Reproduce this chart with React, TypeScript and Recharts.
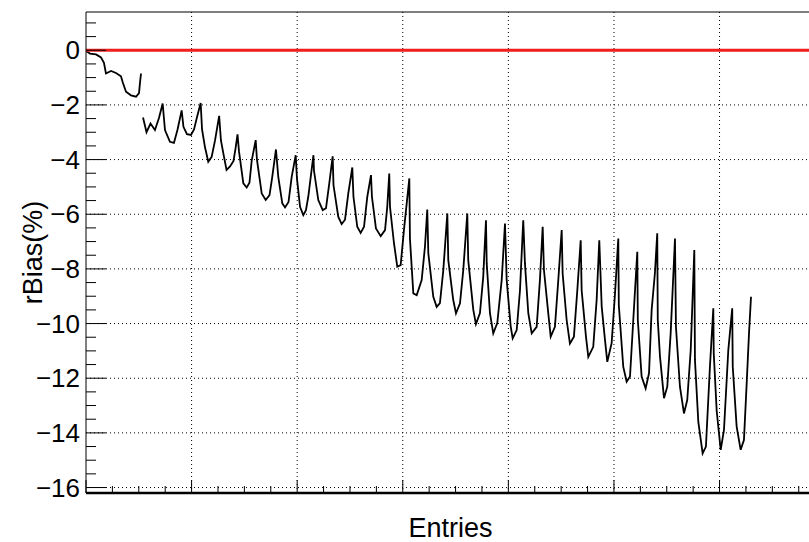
import { LineChart, Line, XAxis, YAxis, ReferenceLine } from 'recharts';

// entries along the run, one row per oscillation cycle
const ENTRIES = [
  0, 38, 95, 142, 170, 189, 237, 284, 331, 350, 379, 426, 474, 502, 511, 521,
  530,
  540, 573, 611, 653, 691, 726,
  748, 795, 833, 867, 906,
  923, 956, 994, 1023, 1051, 1086,
  1099, 1127, 1158, 1190, 1222, 1261,
  1278, 1302, 1331, 1364, 1397, 1416, 1435,
  1449, 1490, 1522, 1548, 1569, 1607,
  1619, 1664, 1702, 1738, 1764, 1799,
  1821, 1859, 1885, 1918, 1948, 1986,
  1998, 2027, 2058, 2083, 2105, 2154,
  2159, 2200, 2242, 2273, 2304, 2336,
  2344, 2389, 2421, 2453, 2484, 2522,
  2533, 2569, 2601, 2633, 2664, 2699,
  2708, 2746, 2791, 2832, 2853, 2872,
  2879, 2917, 2948, 2980, 3011, 3062,
  3068, 3100, 3132, 3179, 3210, 3232,
  3242, 3289, 3321, 3352, 3384, 3422,
  3431, 3478, 3504, 3542, 3573, 3611,
  3620, 3668, 3693, 3731, 3762, 3788,
  3795, 3826, 3857, 3895, 3937, 3968,
  3984, 4022, 4041, 4079, 4110, 4141,
  4157, 4189, 4221, 4268, 4299, 4325,
  4337, 4378, 4401, 4441, 4473, 4505,
  4514, 4552, 4583, 4621, 4653, 4685,
  4694, 4735, 4757, 4804, 4836, 4861,
  4884, 4915, 4937, 4978, 5010, 5041,
  5046, 5088, 5120, 5152, 5183, 5221,
  5226, 5262, 5300, 5332, 5357, 5388, 5410,
  5415, 5436, 5474, 5505, 5537, 5578,
  5587, 5625, 5663, 5694, 5727, 5761,
  5767, 5799, 5840, 5871, 5909, 5941,
  5945, 5973, 6011, 6042, 6083, 6120,
  6125, 6162, 6200, 6231, 6257, 6279, 6298,
];

const RBIAS: (number | null)[] = [
  -0.02, -0.12, -0.15, -0.26, -0.46, -0.85, -0.76, -0.83, -0.95, -1.2, -1.52, -1.65, -1.7, -1.57, -1.2, -0.85,
  null,
  -2.46, -3.0, -2.68, -2.92, -2.48, -1.95,
  -2.92, -3.35, -3.39, -2.9, -2.2,
  -2.8, -3.07, -3.1, -2.9, -2.45, -1.93,
  -2.9, -3.55, -4.08, -3.9, -3.3, -2.4,
  -3.3, -3.8, -4.38, -4.25, -4.05, -3.6, -3.08,
  -3.7, -4.87, -5.02, -4.85, -4.05, -3.29,
  -4.0, -5.24, -5.48, -5.3, -4.63, -3.63,
  -4.63, -5.6, -5.75, -5.55, -4.63, -3.84,
  -4.7, -5.73, -6.03, -5.85, -5.36, -3.84,
  -4.4, -5.48, -5.85, -5.78, -4.87, -3.88,
  -4.94, -6.09, -6.36, -6.2, -5.24, -4.29,
  -5.36, -6.46, -6.68, -6.46, -5.36, -4.57,
  -5.36, -6.52, -6.8, -6.58, -5.73, -4.51,
  -5.73, -7.07, -7.92, -7.86, -6.58, -4.69,
  -6.9, -8.9, -8.96, -8.41, -7.19, -5.83,
  -7.43, -9.02, -9.39, -9.25, -8.04, -5.97,
  -7.68, -9.14, -9.63, -9.26, -8.04, -5.97,
  -7.68, -9.5, -10.02, -9.62, -8.29, -6.22,
  -7.8, -9.63, -10.36, -9.98, -8.4, -6.34,
  -8.4, -10.1, -10.54, -10.24, -8.78, -6.22,
  -7.8, -9.63, -10.36, -10.12, -8.4, -6.46,
  -8.04, -9.63, -10.48, -10.12, -8.4, -6.58,
  -8.17, -9.87, -10.73, -10.48, -8.78, -6.95,
  -8.78, -10.48, -11.22, -10.85, -9.14, -6.95,
  -9.38, -10.6, -11.4, -10.72, -8.9, -6.89,
  -9.32, -11.58, -12.13, -11.94, -9.87, -7.37,
  -9.87, -11.94, -12.37, -11.82, -9.5, -8.15, -6.7,
  -9.87, -11.21, -12.73, -12.31, -10.36, -6.89,
  -10.12, -12.31, -13.29, -12.8, -10.97, -7.31,
  -11.33, -13.6, -14.75, -14.5, -11.58, -9.44,
  -11.09, -13.2, -14.62, -13.89, -10.97, -9.44,
  -11.58, -13.77, -14.62, -14.26, -12.19, -10.36, -9.02,
];

const Y_TICKS = [
  -16, -15.5, -15, -14.5, -14, -13.5, -13, -12.5, -12, -11.5, -11, -10.5,
  -10, -9.5, -9, -8.5, -8, -7.5, -7, -6.5, -6, -5.5, -5, -4.5, -4, -3.5,
  -3, -2.5, -2, -1.5, -1, -0.5, 0, 0.5, 1,
];
const Y_LABELS = [-16, -14, -12, -10, -8, -6, -4, -2, 0];
const X_TICKS = [
  0, 250, 500, 750, 1000, 1250, 1500, 1750, 2000, 2250, 2500, 2750, 3000,
  3250, 3500, 3750, 4000, 4250, 4500, 4750, 5000, 5250, 5500, 5750, 6000,
  6250, 6500, 6750,
];
const X_MAJOR = [0, 1000, 2000, 3000, 4000, 5000, 6000];
const Y_GRID = [-16, -14, -12, -10, -8, -6, -4, -2];
const X_GRID = [1000, 2000, 3000, 4000, 5000, 6000];

const data = ENTRIES.map((x, i) => ({ entries: x, rbias: RBIAS[i] }));

const FONT = '"Liberation Sans", Arial, Helvetica, sans-serif';
const fmt = (v: number) => (v < 0 ? `\u2212${-v}` : `${v}`);

function YTick(props: any) {
  const { x, y, payload } = props;
  const v = payload.value;
  const major = Y_LABELS.includes(v);
  const axisX = x + 6;
  return (
    <g>
      <line x1={axisX} x2={axisX + (major ? 20 : 10)} y1={y} y2={y} stroke="#000" strokeWidth={1} />
      {major && (
        <text x={x} y={y} textAnchor="end" dominantBaseline="central" fontSize={26} fontFamily={FONT} fill="#000">
          {fmt(v)}
        </text>
      )}
    </g>
  );
}

function XTick(props: any) {
  const { x, y, payload } = props;
  const len = X_MAJOR.includes(payload.value) ? 13 : 7;
  return <line x1={x} x2={x} y1={y} y2={y - len} stroke="#000" strokeWidth={1} />;
}

export default function App() {
  return (
    <div
      style={{
        position: 'absolute',
        left: 0,
        top: 0,
        width: 809,
        height: 542,
        overflow: 'hidden',
        background: '#fff',
      }}
    >
      <LineChart width={815} height={542} data={data} margin={{ top: 12, right: 0, bottom: 0, left: 0 }}>
        <XAxis
          dataKey="entries"
          type="number"
          domain={[0, 6904]}
          ticks={X_TICKS}
          interval={0}
          height={49}
          tickSize={0}
          tickMargin={0}
          tickLine={false}
          tick={<XTick />}
          axisLine={{ stroke: '#000', strokeWidth: 2.5 }}
          allowDataOverflow
          label={(p: any) => (
            <text
              x={p.viewBox.x + p.viewBox.width / 2}
              y={537}
              textAnchor="middle"
              fontSize={27}
              fontFamily={FONT}
              fill="#000"
            >
              Entries
            </text>
          )}
        />
        <YAxis
          type="number"
          domain={[-16.2, 1.4]}
          ticks={Y_TICKS}
          interval={0}
          width={86}
          tickSize={0}
          tickMargin={6}
          tickLine={false}
          tick={<YTick />}
          axisLine={{ stroke: '#000', strokeWidth: 1 }}
          allowDataOverflow
          label={(p: any) => (
            <text
              x={33}
              y={p.viewBox.y + p.viewBox.height / 2}
              transform={`rotate(-90 33 ${p.viewBox.y + p.viewBox.height / 2})`}
              textAnchor="middle"
              dominantBaseline="central"
              fontSize={27}
              fontFamily={FONT}
              fill="#000"
            >
              rBias(%)
            </text>
          )}
        />
        {Y_GRID.map((v) => (
          <ReferenceLine key={`gy${v}`} y={v} stroke="#000" strokeWidth={1} strokeDasharray="1 3" />
        ))}
        {X_GRID.map((v) => (
          <ReferenceLine key={`gx${v}`} x={v} stroke="#000" strokeWidth={1} strokeDasharray="1 3" />
        ))}
        <ReferenceLine y={1.4} stroke="#000" strokeWidth={1} />
        <Line
          type="linear"
          dataKey="rbias"
          stroke="#000"
          strokeWidth={1.8}
          dot={false}
          connectNulls={false}
          isAnimationActive={false}
        />
        <ReferenceLine y={0} stroke="#f01e1e" strokeWidth={3} />
      </LineChart>
    </div>
  );
}
